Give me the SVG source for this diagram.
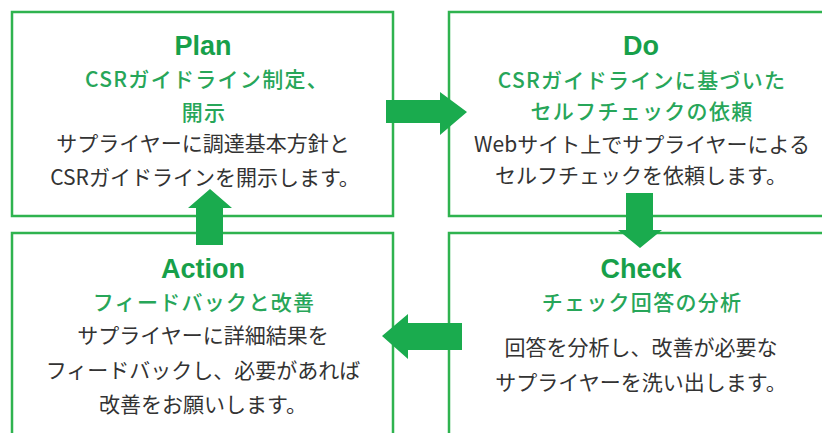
<svg xmlns="http://www.w3.org/2000/svg" width="822" height="433" viewBox="0 0 822 433">
<style>
.box{fill:#ffffff;stroke:#2fb34f;stroke-width:2.5}
.arrow{fill:#1aab4e}
.title{font-family:"Liberation Sans",Arial,sans-serif;font-weight:bold;font-size:27px;fill:#17a04a;text-anchor:middle}
.sub{font-family:"Noto Sans CJK JP","Noto Sans",sans-serif;font-weight:500;font-size:21px;letter-spacing:1.3px;fill:#27a659;text-anchor:middle}
.body{font-family:"Noto Sans CJK JP","Noto Sans",sans-serif;font-size:21px;fill:#333333;text-anchor:middle}
</style>
<rect width="822" height="433" fill="#ffffff"/>
<g id="plan">
<rect class="box" x="12" y="12" width="381" height="204"/>
<text class="title" x="203" y="55">Plan</text>
<text class="sub" x="207" y="87">CSRガイドライン制定、</text>
<text class="sub" x="204" y="120">開示</text>
<text class="body" x="203" y="151">サプライヤーに調達基本方針と</text>
<text class="body" x="205" y="185">CSRガイドラインを開示します。</text>
</g>
<g id="do">
<rect class="box" x="449" y="12" width="390" height="204"/>
<text class="title" x="641" y="55">Do</text>
<text class="sub" x="642" y="88">CSRガイドラインに基づいた</text>
<text class="sub" x="642" y="119">セルフチェックの依頼</text>
<text class="body" x="642" y="152">Webサイト上でサプライヤーによる</text>
<text class="body" x="641" y="183">セルフチェックを依頼します。</text>
</g>
<g id="action">
<rect class="box" x="12" y="233" width="381" height="220"/>
<text class="title" x="203" y="278">Action</text>
<text class="sub" x="204" y="310">フィードバックと改善</text>
<text class="body" x="203" y="343">サプライヤーに詳細結果を</text>
<text class="body" x="203" y="378">フィードバックし、必要があれば</text>
<text class="body" x="203" y="412">改善をお願いします。</text>
</g>
<g id="check">
<rect class="box" x="449" y="233" width="390" height="220"/>
<text class="title" x="641" y="278">Check</text>
<text class="sub" x="642" y="310">チェック回答の分析</text>
<text class="body" x="641" y="355">回答を分析し、改善が必要な</text>
<text class="body" x="641" y="390">サプライヤーを洗い出します。</text>
</g>
<g id="connectors">
<polygon class="arrow" points="386,100 440,100 440,92 467,112 440,135 440,123 386,123"/>
<polygon class="arrow" points="626,193 653,193 653,230 662,230 640,248 618,230 626,230"/>
<polygon class="arrow" points="462,323 408,323 408,314 382,336 408,359 408,350 462,350"/>
<polygon class="arrow" points="196,245 223,245 223,208 232,208 210,189 188,208 196,208"/>
</g>
</svg>
